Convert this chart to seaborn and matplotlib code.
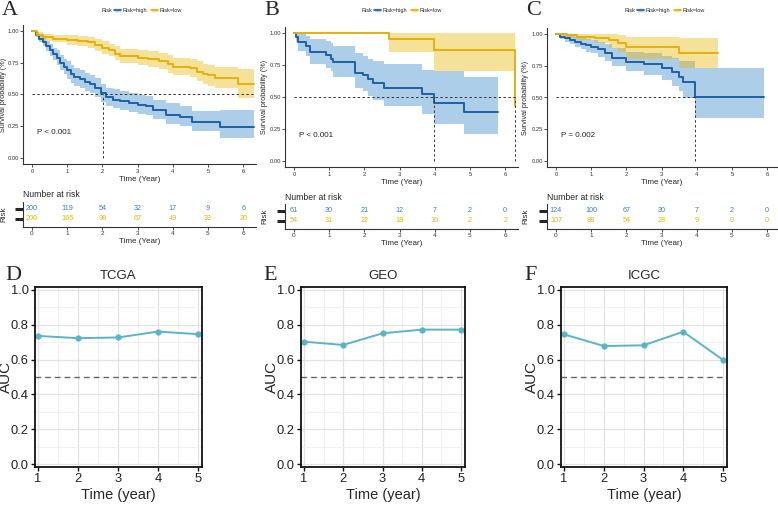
import numpy as np
import pandas as pd
import matplotlib
matplotlib.use("Agg")
import matplotlib.pyplot as plt
import seaborn as sns
from matplotlib.lines import Line2D
from matplotlib.patches import Patch
from matplotlib.ticker import MultipleLocator

# ---- data: Kaplan-Meier step curves (time, survival, lower CI, upper CI)
a_high_t = [0, 0.1, 0.2, 0.3, 0.4, 0.5, 0.6, 0.7, 0.8, 0.9, 1.0, 1.1, 1.2, 1.35, 1.5, 1.65, 1.8, 1.95, 2.1, 2.3, 2.5, 2.75, 3.0, 3.25, 3.45, 3.8, 4.2, 4.55, 5.33, 6.3]
a_high_s = [1.0, 0.97, 0.94, 0.91, 0.88, 0.85, 0.82, 0.79, 0.75, 0.72, 0.69, 0.66, 0.64, 0.62, 0.60, 0.58, 0.55, 0.51, 0.48, 0.46, 0.45, 0.43, 0.42, 0.41, 0.38, 0.34, 0.32, 0.28, 0.245, 0.245]
a_high_lo = [1.0, 0.95, 0.91, 0.88, 0.84, 0.80, 0.77, 0.73, 0.69, 0.66, 0.62, 0.59, 0.57, 0.55, 0.53, 0.51, 0.48, 0.44, 0.41, 0.39, 0.38, 0.36, 0.35, 0.34, 0.31, 0.27, 0.25, 0.21, 0.16, 0.16]
a_high_hi = [1.0, 0.99, 0.97, 0.95, 0.92, 0.90, 0.87, 0.85, 0.81, 0.78, 0.76, 0.73, 0.71, 0.69, 0.67, 0.65, 0.63, 0.58, 0.55, 0.54, 0.53, 0.51, 0.50, 0.49, 0.46, 0.43, 0.41, 0.37, 0.38, 0.38]

a_low_t = [0, 0.15, 0.3, 0.6, 1.0, 1.3, 1.6, 1.8, 2.0, 2.2, 2.35, 2.5, 3.0, 3.3, 3.6, 3.85, 4.0, 4.5, 4.7, 4.85, 5.0, 5.2, 5.85, 6.3]
a_low_s = [1.0, 0.97, 0.95, 0.94, 0.93, 0.92, 0.91, 0.89, 0.87, 0.85, 0.82, 0.80, 0.79, 0.78, 0.76, 0.74, 0.72, 0.71, 0.68, 0.66, 0.65, 0.63, 0.58, 0.58]
a_low_lo = [1.0, 0.95, 0.92, 0.91, 0.89, 0.88, 0.87, 0.84, 0.82, 0.80, 0.77, 0.75, 0.73, 0.72, 0.70, 0.67, 0.65, 0.64, 0.61, 0.58, 0.57, 0.55, 0.47, 0.47]
a_low_hi = [1.0, 0.99, 0.98, 0.97, 0.97, 0.96, 0.95, 0.94, 0.92, 0.90, 0.88, 0.86, 0.85, 0.84, 0.83, 0.81, 0.79, 0.78, 0.76, 0.74, 0.73, 0.72, 0.70, 0.70]

b_high_t = [0, 0.05, 0.12, 0.35, 0.45, 0.9, 1.05, 1.1, 1.72, 1.95, 2.1, 2.25, 2.55, 3.63, 3.98, 4.84, 5.79]
b_high_s = [1.0, 0.97, 0.93, 0.90, 0.85, 0.83, 0.80, 0.77, 0.69, 0.67, 0.64, 0.61, 0.57, 0.52, 0.45, 0.38, 0.38]
b_high_lo = [1.0, 0.93, 0.86, 0.82, 0.76, 0.73, 0.70, 0.66, 0.57, 0.55, 0.51, 0.48, 0.43, 0.37, 0.29, 0.21, 0.21]
b_high_hi = [1.0, 1.0, 0.99, 0.98, 0.95, 0.94, 0.92, 0.90, 0.84, 0.82, 0.80, 0.78, 0.76, 0.71, 0.70, 0.66, 0.66]

b_low_t = [0, 2.7, 3.97, 6.27, 6.29]
b_low_s = [1.0, 0.95, 0.865, 0.43, 0.43]
b_low_lo = [1.0, 0.85, 0.70, 0.70, 0.70]
b_low_hi = [1.0, 1.0, 1.0, 1.0, 1.0]

c_high_t = [0, 0.1, 0.25, 0.4, 0.55, 0.7, 0.85, 1.0, 1.2, 1.4, 1.6, 2.0, 2.5, 3.0, 3.3, 3.5, 3.6, 3.95, 5.9]
c_high_s = [1.0, 0.98, 0.97, 0.95, 0.94, 0.92, 0.91, 0.90, 0.88, 0.85, 0.81, 0.78, 0.76, 0.73, 0.70, 0.66, 0.62, 0.50, 0.50]
c_high_lo = [1.0, 0.96, 0.94, 0.92, 0.90, 0.88, 0.86, 0.85, 0.82, 0.79, 0.75, 0.71, 0.68, 0.64, 0.59, 0.55, 0.50, 0.34, 0.34]
c_high_hi = [1.0, 1.0, 1.0, 0.99, 0.98, 0.97, 0.96, 0.95, 0.94, 0.92, 0.89, 0.86, 0.85, 0.83, 0.81, 0.79, 0.79, 0.73, 0.73]

c_low_t = [0, 0.3, 0.6, 1.1, 1.5, 1.75, 2.0, 3.5, 4.6]
c_low_s = [1.0, 0.99, 0.98, 0.97, 0.95, 0.93, 0.90, 0.85, 0.85]
c_low_lo = [1.0, 0.97, 0.95, 0.93, 0.89, 0.86, 0.80, 0.73, 0.73]
c_low_hi = [1.0, 1.0, 1.0, 1.0, 1.0, 0.99, 0.98, 0.97, 0.97]

# numbers at risk at years 0..6
risk_years = [0, 1, 2, 3, 4, 5, 6]
a_risk_high = [200, 119, 54, 32, 17, 9, 6]
a_risk_low = [200, 165, 98, 67, 49, 33, 20]
b_risk_high = [61, 30, 21, 12, 7, 2, 0]
b_risk_low = [54, 31, 22, 18, 10, 2, 2]
c_risk_high = [124, 100, 67, 30, 7, 2, 0]
c_risk_low = [107, 88, 54, 28, 9, 0, 0]

# time-dependent AUC
auc_years = [1, 2, 3, 4, 5]
auc_tcga = [0.736, 0.723, 0.727, 0.761, 0.746]
auc_geo = [0.703, 0.684, 0.751, 0.772, 0.772]
auc_icgc = [0.745, 0.678, 0.682, 0.760, 0.598]

BLUE = "#1f5fa6"
BLUE_FILL = "#3a8ccc"
BLUE_TXT = "#3b7fc4"
YEL = "#e3b10c"
YEL_FILL = "#ebb80d"
YEL_TXT = "#e7b800"
AUC_COL = "#5ab4c8"

sns.set_theme(style="white")
plt.rcParams['font.family'] = ['Liberation Sans', 'DejaVu Sans']

W, H = 778, 513
fig = plt.figure(figsize=(W / 100, H / 100), dpi=100)


def px_axes(l, t, r, b):
    return fig.add_axes([l / W, 1 - b / H, (r - l) / W, (b - t) / H])


def letter(x, y, s):
    fig.text(x / W, 1 - y / H, s, family='Liberation Serif', fontsize=16,
             ha='left', va='center')


def km_panel(tag, x0, ytop1, y0, xlim, curves, pval, med_h, med_v,
             risk_rows, risk_high, risk_low, leg_x, ylab_x):
    ppu = 35.2
    left = x0 + xlim[0] * ppu
    right = x0 + xlim[1] * ppu
    ppy = y0 - ytop1
    top = ytop1 - 0.05 * ppy
    bottom = y0 + 0.05 * ppy
    ax = px_axes(left, top, right, bottom)
    for t, s, lo, hi, col, fill in curves:
        ax.fill_between(t, lo, hi, step='post', color=fill, alpha=0.42, lw=0)
        df = pd.DataFrame({'t': t, 's': s})
        sns.lineplot(data=df, x='t', y='s', drawstyle='steps-post', color=col,
                     lw=1.4, estimator=None, sort=False, ax=ax)
    ax.plot([0, med_h], [0.5, 0.5], ls=(0, (2.5, 2.5)), color='#333333', lw=0.7)
    for v in med_v:
        ax.plot([v, v], [0, 0.5], ls=(0, (2.5, 2.5)), color='#333333', lw=0.7)
    ax.text(0.15, 0.2, pval, fontsize=5.8, ha='left', va='center', color='#222222')
    ax.set_xlim(*xlim)
    ax.set_ylim(-0.05, 1.05)
    ax.set_xticks(risk_years)
    ax.set_yticks([0, 0.25, 0.5, 0.75, 1.0])
    ax.set_yticklabels(['0.00', '0.25', '0.50', '0.75', '1.00'])
    ax.tick_params(labelsize=4.2, length=2, width=0.6, pad=1, bottom=True, left=True,
                   colors='#333333')
    ax.set_xlabel('Time (Year)', fontsize=5.8, labelpad=1.5)
    ax.set_ylabel('Survival probability (%)', fontsize=5.2)
    ax.yaxis.set_label_coords((ylab_x - left) / (right - left), 0.5)
    sns.despine(ax=ax)
    for s in ['left', 'bottom']:
        ax.spines[s].set_linewidth(0.8)
        ax.spines[s].set_color('#333333')

    # legend at top
    handles = [(Patch(facecolor=BLUE_FILL, alpha=0.42), Line2D([], [], color=BLUE, lw=1.2)),
               (Patch(facecolor=YEL_FILL, alpha=0.42), Line2D([], [], color=YEL, lw=1.2))]
    fig.legend(handles, ['Risk=high', 'Risk=low'], loc='center left', ncol=2,
               bbox_to_anchor=(leg_x / W, 1 - 10.5 / H), frameon=False, fontsize=4,
               handlelength=1.3, handleheight=0.8, handletextpad=0.3, columnspacing=0.6,
               borderpad=0, borderaxespad=0)
    fig.text((leg_x - 2) / W, 1 - 10.5 / H, 'Risk', fontsize=4, ha='right', va='center')

    # risk table
    r1, r2 = risk_rows
    rax = px_axes(left, r1 - 7, right, r2 + 8)
    for yr, nh, nl in zip(risk_years, risk_high, risk_low):
        rax.text(yr, 2, str(nh), color=BLUE_TXT, fontsize=5.2, ha='center', va='center')
        rax.text(yr, 1, str(nl), color=YEL_TXT, fontsize=5.2, ha='center', va='center')
    rax.set_xlim(*xlim)
    rax.set_ylim(0.2, 2.7)
    rax.set_xticks(risk_years)
    rax.set_yticks([1, 2])
    rax.set_yticklabels([])
    rax.tick_params(axis='x', labelsize=4.6, length=2, width=0.6, pad=1, bottom=True,
                    colors='#333333')
    rax.tick_params(axis='y', left=True, length=6, width=2)
    for tick, col in zip(rax.yaxis.get_major_ticks(), [YEL, BLUE]):
        tick.tick1line.set_color(col)
        tick.tick1line.set_markeredgewidth(2.2)
    rax.set_xlabel('Time (Year)', fontsize=5.8, labelpad=1.5)
    rax.set_ylabel('Risk', fontsize=5.8)
    rax.yaxis.set_label_coords((ylab_x - left) / (right - left), 0.5)
    sns.despine(ax=rax)
    for s in ['left', 'bottom']:
        rax.spines[s].set_linewidth(0.8)
        rax.spines[s].set_color('#333333')
    fig.text(left / W, 1 - (r1 - 14) / H, 'Number at risk', fontsize=6.2, ha='left', va='center')
    letter(x0 - 30, 11, tag)


def auc_panel(tag, title, box, vals, letter_x):
    ax = px_axes(*box)
    df = pd.DataFrame({'year': auc_years, 'auc': vals})
    sns.lineplot(data=df, x='year', y='auc', color=AUC_COL, lw=1.4, marker='o',
                 markersize=4.5, markeredgewidth=0, ax=ax)
    ax.axhline(0.5, ls=(0, (4, 3)), color='#666666', lw=1.0)
    ax.set_xlim(0.925, 5.1)
    ax.set_ylim(-0.017, 1.017)
    ax.set_xticks(auc_years)
    ax.set_yticks([0, 0.2, 0.4, 0.6, 0.8, 1.0])
    ax.xaxis.set_minor_locator(MultipleLocator(0.5))
    ax.yaxis.set_minor_locator(MultipleLocator(0.1))
    ax.grid(which='major', color='#e2e2e2', lw=0.9)
    ax.grid(which='minor', color='#eeeeee', lw=0.6)
    ax.set_axisbelow(True)
    for s in ax.spines.values():
        s.set_visible(True)
        s.set_color('#111111')
        s.set_linewidth(1.3)
    ax.tick_params(which='major', length=3, width=1, color='#111111', labelsize=9.3,
                   pad=1.5, bottom=True, left=True, labelcolor='#222222')
    ax.tick_params(which='minor', length=0)
    ax.set_xlabel('Time (year)', fontsize=10.5, labelpad=2)
    ax.set_ylabel('AUC', fontsize=11)
    ax.yaxis.set_label_coords((box[0] - 22 - box[0]) / (box[2] - box[0]), 0.5)
    ax.set_title(title, fontsize=9.5, pad=6)
    letter(letter_x, 276, tag)


km_panel('A', 32, 31, 158, (-0.26, 6.36),
         [(a_high_t, a_high_s, a_high_lo, a_high_hi, BLUE, BLUE_FILL),
          (a_low_t, a_low_s, a_low_lo, a_low_hi, YEL, YEL_FILL)],
         'P < 0.001', 6.3, [2.03], (209, 219), a_risk_high, a_risk_low, 114, 7)
km_panel('B', 294, 33, 161, (-0.26, 6.36),
         [(b_high_t, b_high_s, b_high_lo, b_high_hi, BLUE, BLUE_FILL),
          (b_low_t, b_low_s, b_low_lo, b_low_hi, YEL, YEL_FILL)],
         'P < 0.001', 6.27, [3.98, 6.27], (211, 221), b_risk_high, b_risk_low, 374, 268)
km_panel('C', 556, 34, 161, (-0.26, 6.29),
         [(c_high_t, c_high_s, c_high_lo, c_high_hi, BLUE, BLUE_FILL),
          (c_low_t, c_low_s, c_low_lo, c_low_hi, YEL, YEL_FILL)],
         'P = 0.002', 3.95, [3.95], (211, 221), c_risk_high, c_risk_low, 637, 529)

auc_panel('D', 'TCGA', (35, 287, 202, 467), auc_tcga, 5)
auc_panel('E', 'GEO', (301, 287, 465, 467), auc_geo, 263)
auc_panel('F', 'ICGC', (561, 287, 727, 467), auc_icgc, 524)

fig.savefig('out.png', dpi=100)
